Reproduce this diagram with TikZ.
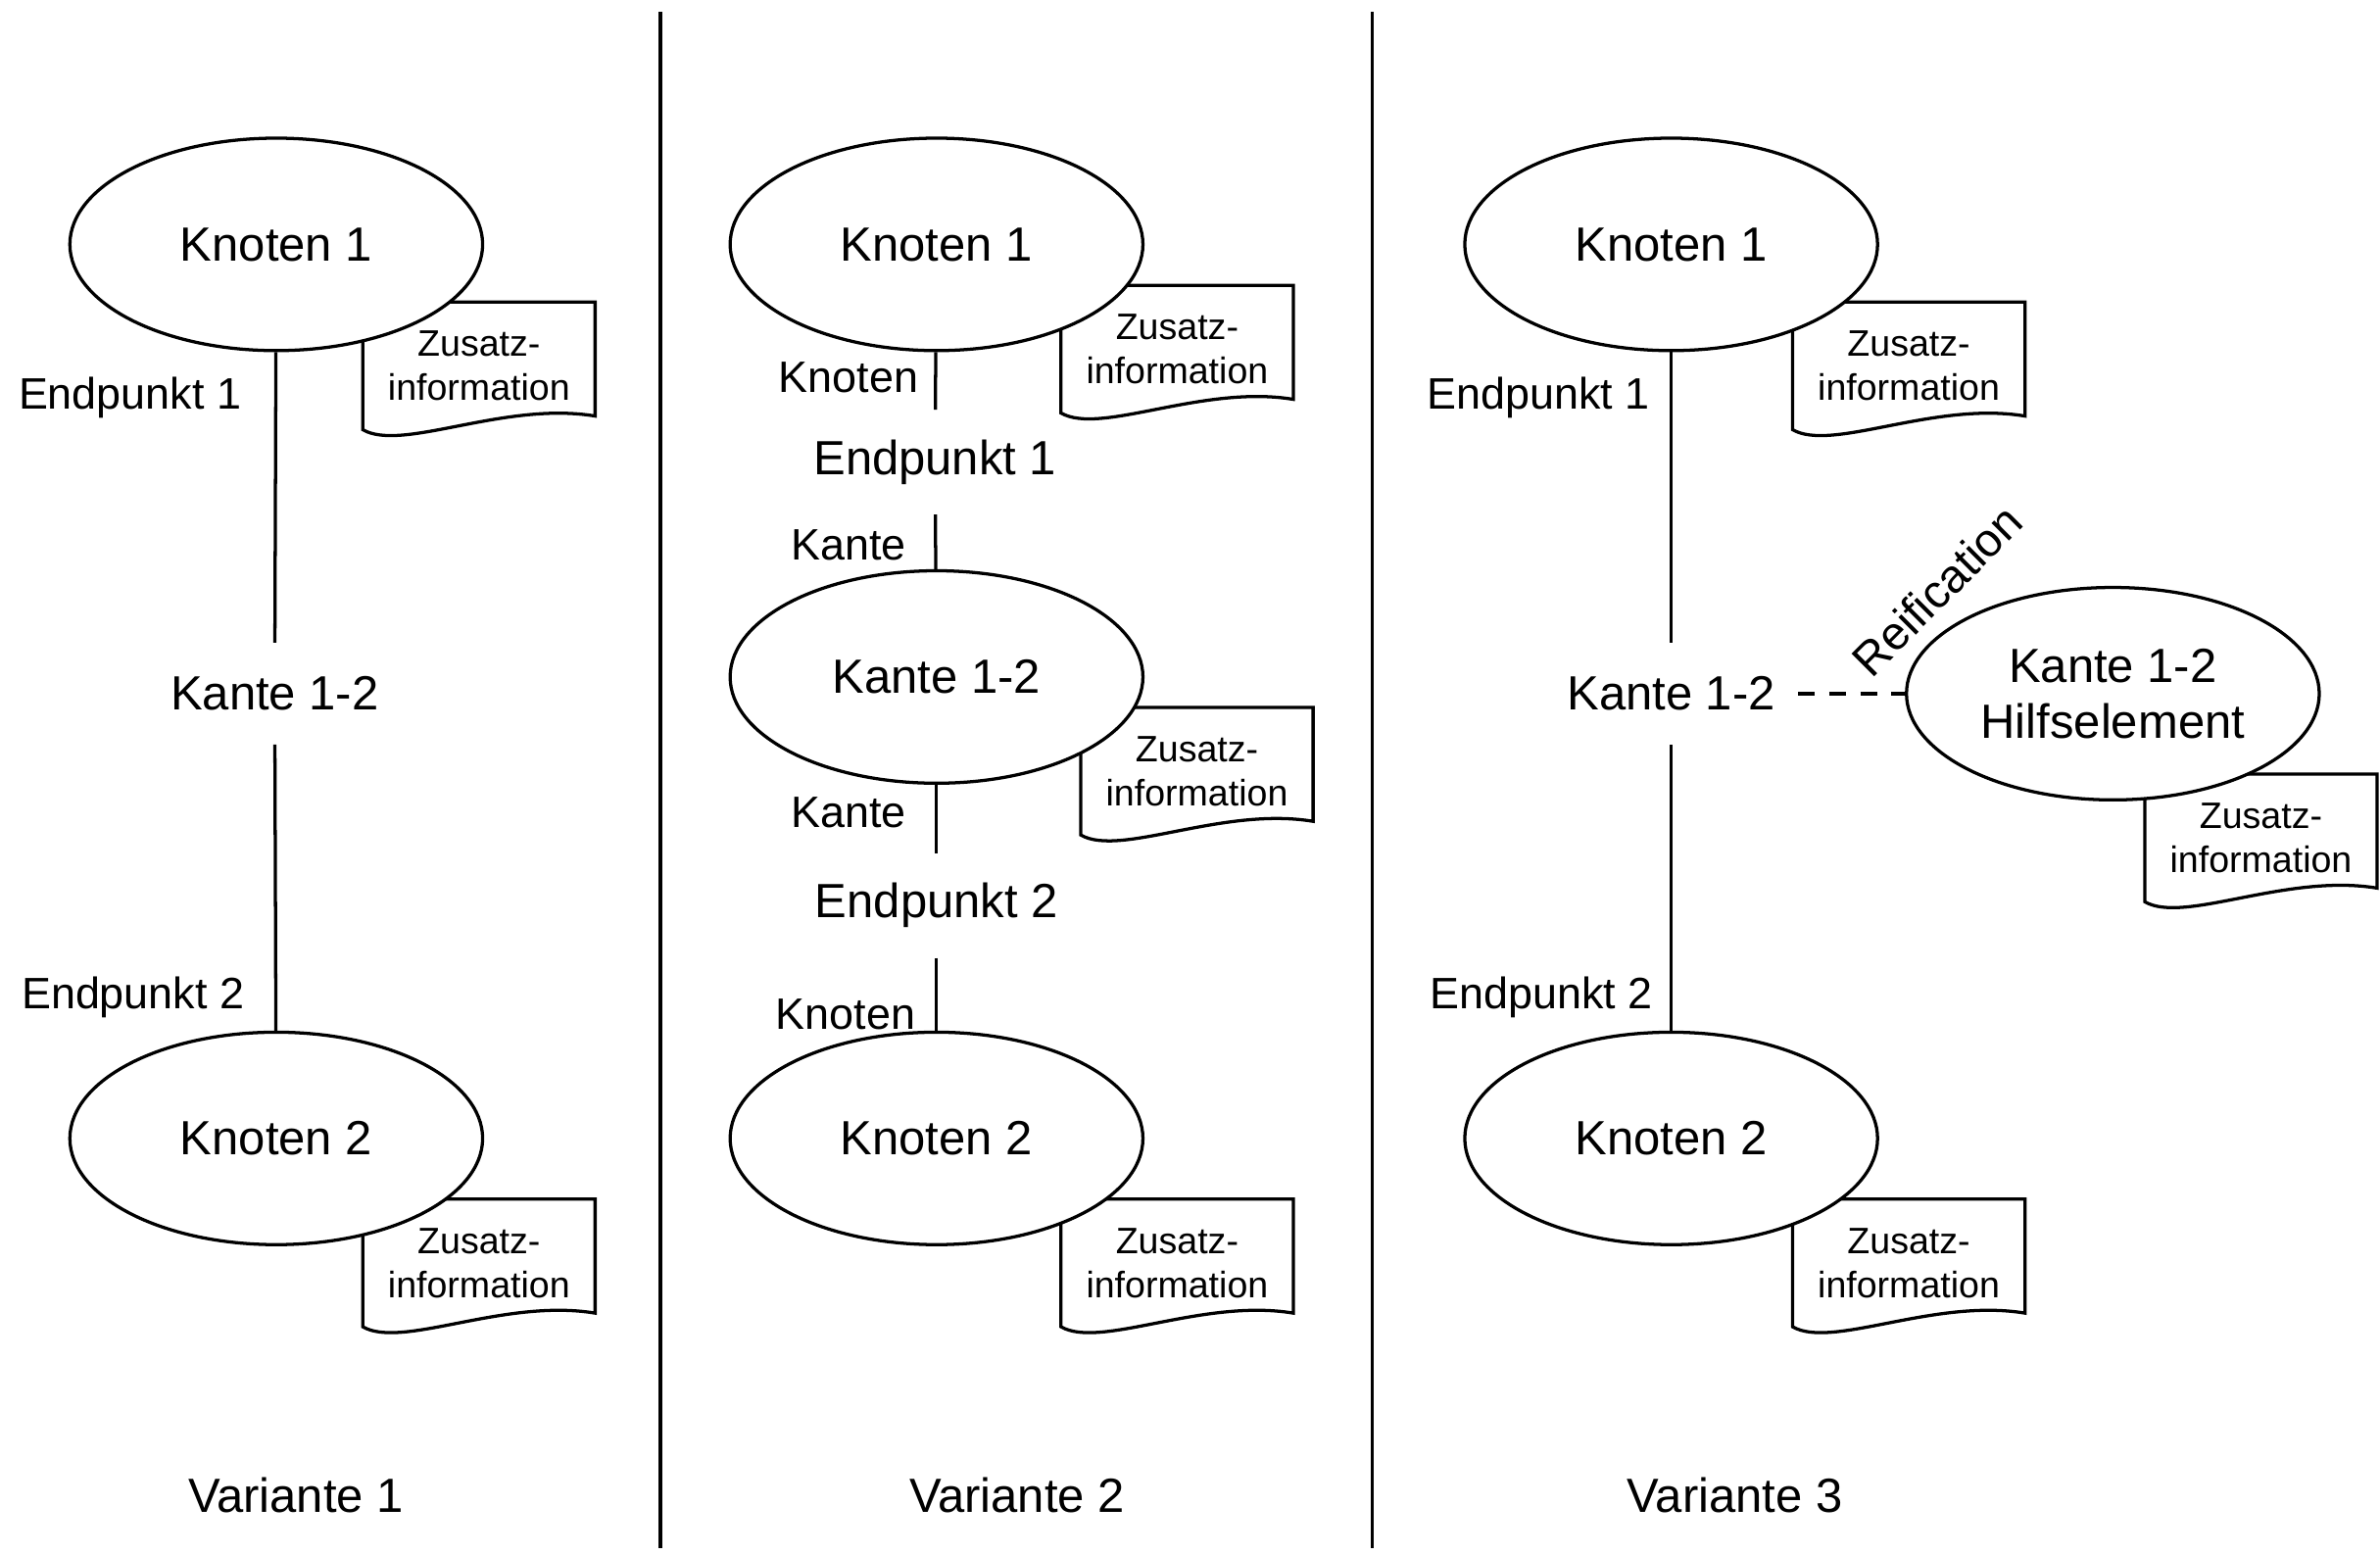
\documentclass[tikz,border=0pt]{standalone}
\usepackage{fontspec}
\setmainfont{Liberation Sans}
\usetikzlibrary{shapes.geometric}

% outline of a document sheet round an info node
\newcommand{\dokument}[1]{%
  \draw (#1.south west) -- (#1.north west) -- (#1.north east)
    -- ([yshift=0.18cm]#1.south east) .. controls +(-60,-10) and +(26,15) .. (#1.south west) -- cycle;}

\begin{document}
\begin{tikzpicture}[x=0.02cm,y=-0.02cm,line width=1.2pt,
    element/.style={ellipse,draw,fill=white,minimum width=5.44cm,minimum height=2.8cm,
      inner sep=0pt,align=center,font=\fontsize{18}{21}\selectfont},
    info/.style={anchor=north west,minimum width=3.02cm,minimum height=1.64cm,inner sep=0pt,
      align=center,font=\fontsize{13.8}{16.5}\selectfont},
    rolle/.style={anchor=east,inner sep=0pt,font=\fontsize{16.5}{19}\selectfont},
    kante/.style={minimum height=1.3cm,inner xsep=0.28cm,font=\fontsize{18}{21}\selectfont},
    titel/.style={font=\fontsize{18}{21}\selectfont}]

    \useasboundingbox (0,0) rectangle (1568,1024);

    % dividers
    \draw (435,8) -- (435,1020);
    \draw (904,8) -- (904,1020);

    % Variante 1
    \node[info] (z1a) at (239,199) {Zusatz-\\information};
    \node[info] (z2a) at (239,790) {Zusatz-\\information};
    \dokument{z1a}
    \dokument{z2a}

    \node[element] (k1a) at (182,161) {Knoten 1};
    \node[kante] (e12a) at (181,457) {Kante 1-2};
    \node[element] (k2a) at (182,750) {Knoten 2};
    \node[rolle] (ep1a) at (160,262) {Endpunkt 1};
    \node[rolle] (ep2a) at (162,657) {Endpunkt 2};
    \node[titel] (v1) at (195,985) {Variante 1};

    \path (k1a) edge (e12a);
    \path (e12a) edge (k2a);

    % Variante 2
    \node[info] (z1b) at (699,188) {Zusatz-\\information};
    \node[info] (z12b) at (712,466) {Zusatz-\\information};
    \node[info] (z2b) at (699,790) {Zusatz-\\information};
    \dokument{z1b}
    \dokument{z12b}
    \dokument{z2b}

    \node[element] (k1b) at (617,161) {Knoten 1};
    \node[kante,minimum height=1.34cm] (ep1b) at (616,304.5) {Endpunkt 1};
    \node[element] (e12b) at (617,446) {Kante 1-2};
    \node[kante,minimum height=1.34cm] (ep2b) at (617,596.5) {Endpunkt 2};
    \node[element] (k2b) at (617,750) {Knoten 2};
    \node[rolle] (r1b) at (606,249) {Knoten};
    \node[rolle] (r2b) at (598,359) {Kante};
    \node[rolle] (r3b) at (598,535) {Kante};
    \node[rolle] (r4b) at (604,668) {Knoten};
    \node[titel] (v2) at (670,985) {Variante 2};

    \path (k1b) edge (ep1b);
    \path (ep1b) edge (e12b);
    \path (e12b) edge (ep2b);
    \path (ep2b) edge (k2b);

    % Variante 3
    \node[info] (z1c) at (1181,199) {Zusatz-\\information};
    \node[info] (zhc) at (1413,510) {Zusatz-\\information};
    \node[info] (z2c) at (1181,790) {Zusatz-\\information};
    \dokument{z1c}
    \dokument{zhc}
    \dokument{z2c}

    \node[element] (k1c) at (1101,161) {Knoten 1};
    \node[kante] (e12c) at (1101,457) {Kante 1-2};
    \node[element] (hc) at (1392,457) {Kante 1-2\\Hilfselement};
    \node[element] (k2c) at (1101,750) {Knoten 2};
    \node[rolle] (ep1c) at (1088,262) {Endpunkt 1};
    \node[rolle] (ep2c) at (1090,657) {Endpunkt 2};
    \node[rolle,anchor=center,rotate=45,font=\fontsize{17.5}{20}\selectfont] (reif) at (1276,389) {Reification};
    \node[titel] (v3) at (1143,985) {Variante 3};

    \path (k1c) edge (e12c);
    \path (e12c) edge (k2c);
    \path (e12c) edge[dash pattern=on 0.22cm off 0.19cm] (hc);
\end{tikzpicture}
\end{document}
